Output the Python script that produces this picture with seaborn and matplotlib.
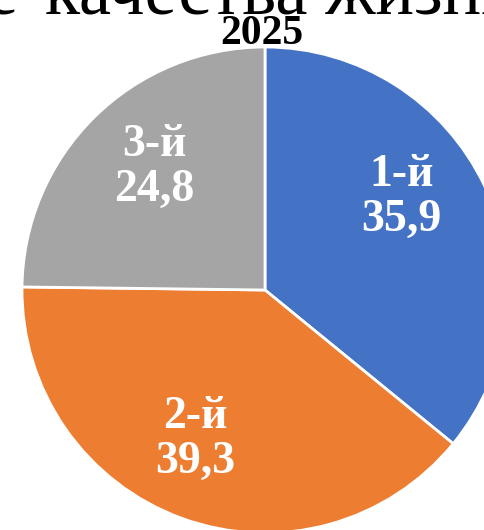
import numpy as np
import seaborn as sns
import matplotlib.pyplot as plt

# данные
places = ["1-й", "2-й", "3-й"]
shares = [35.9, 39.3, 24.8]
share_labels = ["35,9", "39,3", "24,8"]
colors = ["#4472C4", "#ED7D31", "#A5A5A5"]

sns.set_style("white")
plt.rcParams["font.family"] = ["Liberation Serif", "DejaVu Serif"]

fig = plt.figure(figsize=(4.85, 5.3), dpi=100)
ax = fig.add_axes([0, 0, 1, 1])

# 1 unit = 1 px, pie center at (265, 290) from top-left
R = 243
wedges, _ = ax.pie(shares, colors=colors, startangle=90, counterclock=False,
                   radius=R, center=(0, 0), frame=True,
                   wedgeprops=dict(edgecolor="white", linewidth=2))
ax.set_xlim(-265, 220)
ax.set_ylim(-240, 290)
ax.axis("off")

# подписи сегментов
label_angles = [34, 245, 132]
label_r = 165
for name, val, a in zip(places, share_labels, label_angles):
    t = np.deg2rad(a)
    ax.text(label_r * np.cos(t), label_r * np.sin(t), f"{name}\n{val}",
            ha="center", va="center", color="white", fontsize=33,
            fontweight="bold", linespacing=1.1)

# заголовок (верх обрезан)
fig.text(17, 530 - 13, "е", transform=None,
         ha="right", va="baseline", fontsize=52, color="black")
fig.text(45, 530 - 13, "качества жизни", transform=None,
         ha="left", va="baseline", fontsize=52, color="black")
fig.text(262 / 485, 1 - 44 / 530, "2025", ha="center", va="baseline",
         fontsize=30, fontweight="bold", color="black")

fig.savefig("out.png", dpi=100)
